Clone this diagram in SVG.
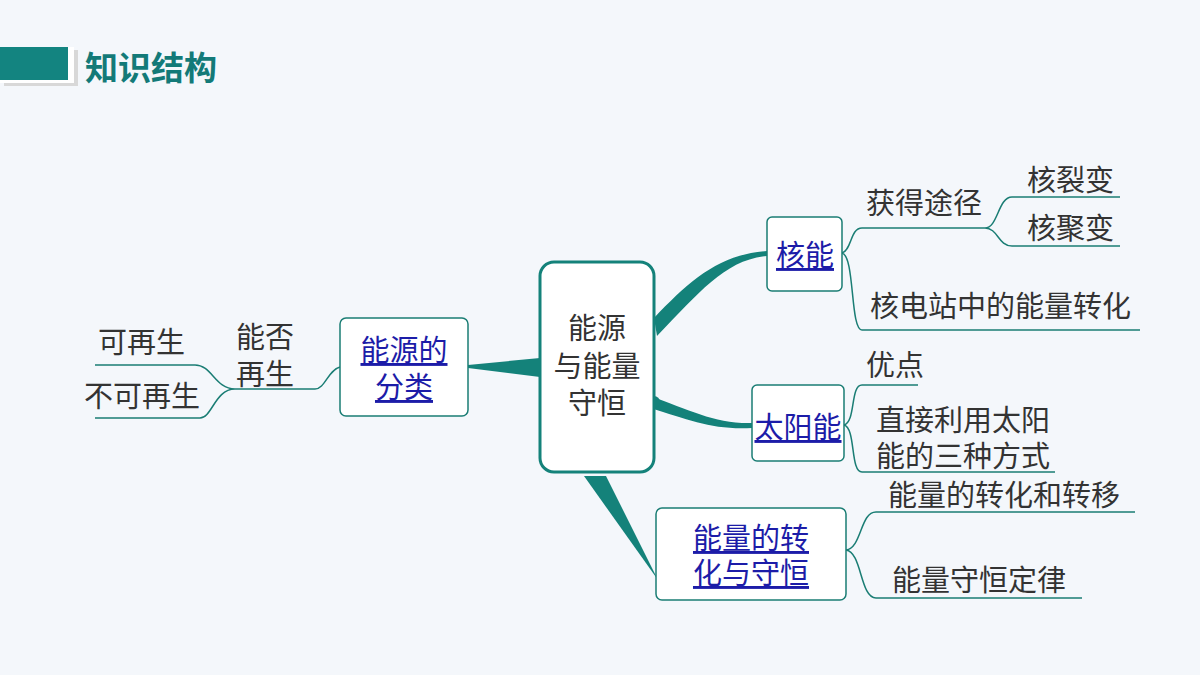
<svg xmlns="http://www.w3.org/2000/svg" width="1200" height="675" viewBox="0 0 1200 675">
<style>
text{font-family:"Noto Sans CJK SC","Noto Sans",sans-serif;font-size:29px;fill:#333}
.lk{fill:#1c1ca8;text-decoration:underline}
.box{fill:#fff;stroke:#1a7d74;stroke-width:1.5}
.ln{fill:none;stroke:#1a7d74;stroke-width:1.5}
.th{fill:#14827a}
</style>
<rect width="1200" height="675" fill="#f4f7fb"/>
<rect x="4" y="50" width="74" height="36" fill="#d8d8d8"/>
<rect x="0" y="47" width="74" height="36" fill="#fff"/>
<rect x="0" y="47" width="68" height="33" fill="#138480"/>
<text x="85" y="80" style="font-size:33px;font-weight:bold;fill:#137a78">知识结构</text>
<g id="connectors">
<path class="th" d="M540,358 L540,377 L468,368 L468,365 Z"/>
<path class="th" d="M654,318 C690,280 720,254 767,251 L767,256 C725,260 700,292 657,336 Z"/>
<path class="th" d="M650,396 C690,410 715,424 752,423 L752,428 C712,430 690,420 650,408 Z"/>
<circle class="th" cx="654" cy="402" r="6"/>
<path class="th" d="M584,476 L606,476 L658,580 Z"/>
<path class="ln" d="M340,367 C328,370 325,389 315,389 L235,389 C215,389 212,365 195,365 L95,365 M235,389 C215,389 212,418 200,418 L95,418"/>
<path class="ln" d="M842,253 C852,250 850,228 862,228 L985,228 M842,253 C855,256 850,330 862,330 L1140,330"/>
<path class="ln" d="M985,228 C998,228 998,197 1012,197 L1120,197 M985,228 C998,228 998,246 1012,246 L1120,246"/>
<path class="ln" d="M844,425 C856,422 850,385 862,385 L918,385 M844,425 C856,428 850,472 862,472 L1055,472"/>
<path class="ln" d="M846,550 C862,548 860,512 876,512 L1135,512 M846,550 C862,552 860,598 876,598 L1082,598"/>
</g>
<g id="center"><rect x="540" y="262" width="114" height="210" rx="14" fill="#fff" stroke="#14827a" stroke-width="3"/>
<text x="597" y="339" text-anchor="middle">能源</text><text x="597" y="377" text-anchor="middle">与能量</text><text x="597" y="414" text-anchor="middle">守恒</text></g>
<g id="fenlei"><rect class="box" x="340" y="318" width="128" height="98" rx="6"/>
<text class="lk" x="404" y="361" text-anchor="middle">能源的</text><text class="lk" x="404" y="398" text-anchor="middle">分类</text></g>
<g id="nengfou"><text x="265" y="348" text-anchor="middle">能否</text><text x="265" y="385" text-anchor="middle">再生</text></g>
<g id="kezaisheng"><text x="98" y="353">可再生</text></g>
<g id="bukezaisheng"><text x="84" y="407">不可再生</text></g>
<g id="heneng"><rect class="box" x="767" y="217" width="75" height="74" rx="5"/><text class="lk" x="805" y="266" text-anchor="middle">核能</text></g>
<g id="huode"><text x="866" y="214">获得途径</text></g>
<g id="heliebian"><text x="1027" y="191">核裂变</text></g>
<g id="hejubian"><text x="1027" y="239">核聚变</text></g>
<g id="hedianzhan"><text x="870" y="317">核电站中的能量转化</text></g>
<g id="taiyang"><rect class="box" x="752" y="385" width="92" height="76" rx="5"/><text class="lk" x="798" y="438" text-anchor="middle">太阳能</text></g>
<g id="youdian"><text x="866" y="376">优点</text></g>
<g id="zhijie"><text x="876" y="431">直接利用太阳</text><text x="876" y="467">能的三种方式</text></g>
<g id="zhuanhua"><rect class="box" x="656" y="508" width="190" height="92" rx="6"/>
<text class="lk" x="751" y="549" text-anchor="middle">能量的转</text><text class="lk" x="751" y="584" text-anchor="middle">化与守恒</text></g>
<g id="zhuanyi"><text x="888" y="506">能量的转化和转移</text></g>
<g id="shouheng"><text x="892" y="591">能量守恒定律</text></g>
</svg>
